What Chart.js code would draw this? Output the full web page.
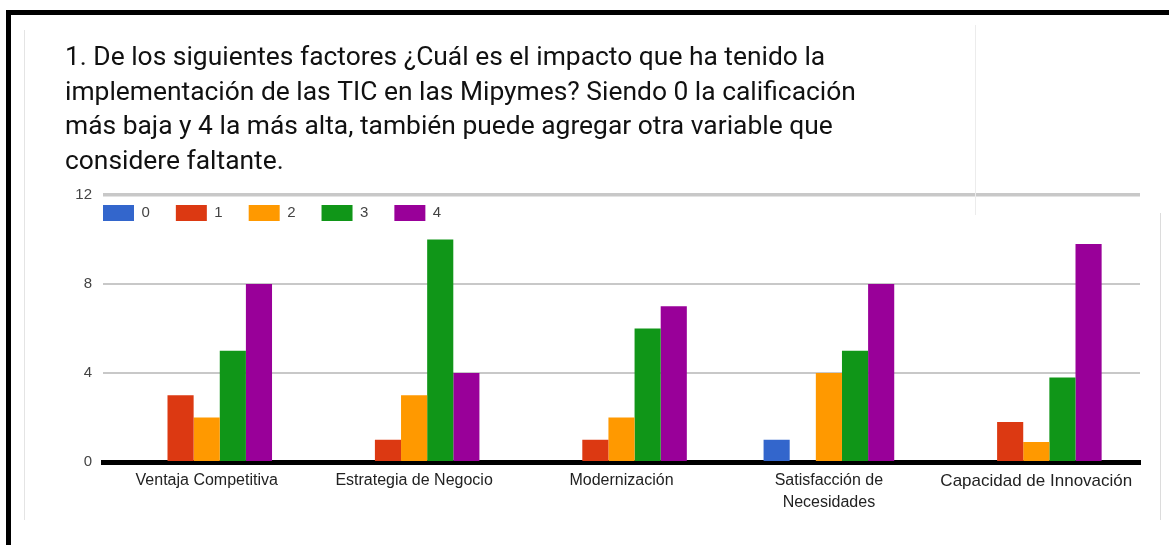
<!DOCTYPE html>
<html>
<head>
<meta charset="utf-8">
<script src="https://cdn.jsdelivr.net/npm/chart.js@4/dist/chart.umd.min.js"></script>
<style>
  html, body { margin: 0; padding: 0; background: #fff; }
  #wrap { position: relative; width: 1169px; height: 545px; overflow: hidden; }
  #box { position: absolute; left: 0; top: 0; width: 1169px; height: 545px; }
  .deco { position: absolute; pointer-events: none; }
</style>
</head>
<body>
<div id="wrap">
  <div id="box"><canvas id="c"></canvas></div>
  <div class="deco" style="left:6px;top:10px;width:1163px;height:5px;background:#000;"></div>
  <div class="deco" style="left:6px;top:10px;width:5px;height:535px;background:#000;"></div>
  <div class="deco" style="left:24px;top:30px;width:1px;height:490px;background:#e4e4e4;"></div>
  <div class="deco" style="left:975px;top:25px;width:1px;height:190px;background:#ececec;"></div>
  <div class="deco" style="left:1160px;top:213px;width:1px;height:307px;background:#dcdcdc;"></div>
</div>
<script>
const titleLines = [
  "1. De los siguientes factores ¿Cuál es el impacto que ha tenido la",
  "implementación de las TIC en las Mipymes? Siendo 0 la calificación",
  "más baja y 4 la más alta, también puede agregar otra variable que",
  "considere faltante."
];
const categories = [
  "Ventaja Competitiva",
  "Estrategia de Negocio",
  "Modernización",
  ["Satisfacción de", "Necesidades"],
  "Capacidad de Innovación"
];
const seriesNames = ["0", "1", "2", "3", "4"];
const rating0 = [0, 0, 0, 1, 0];
const rating1 = [3, 1, 1, 0, 1.8];
const rating2 = [2, 3, 2, 4, 0.9];
const rating3 = [5, 10, 6, 5, 3.8];
const rating4 = [8, 4, 7, 8, 9.8];
const yTicks = [0, 4, 8, 12];

const seriesValues = [rating0, rating1, rating2, rating3, rating4];
const colors = ["#3366cc", "#dc3912", "#ff9900", "#109618", "#990099"];

const legendInside = {
  id: 'legendInside',
  beforeLayout(chart) {
    const lg = chart.legend;
    if (lg && !lg._patched) {
      const f = lg.fit;
      lg.fit = function () { f.call(this); this.height = 0; };
      lg._patched = true;
    }
  },
  afterLayout(chart) {
    const lg = chart.legend;
    const ca = chart.chartArea;
    const pad = lg.options.labels.padding;
    lg.left = ca.left - pad;
    lg.right = ca.right;
    lg.width = lg.right - lg.left;
    lg.top = ca.top + 10 - pad;
    lg.bottom = lg.top + 60;
    lg.height = 60;
  }
};

new Chart(document.getElementById('c'), {
  type: 'bar',
  data: {
    labels: categories,
    datasets: seriesNames.map((n, i) => ({
      label: n,
      data: seriesValues[i],
      backgroundColor: colors[i],
      borderWidth: 0,
      barPercentage: 1,
      categoryPercentage: 0.63
    }))
  },
  plugins: [legendInside],
  options: {
    responsive: true,
    maintainAspectRatio: false,
    animation: false,
    events: [],
    layout: { padding: { left: 65, top: 30, right: 29, bottom: 0 } },
    plugins: {
      title: {
        display: true,
        text: titleLines,
        align: 'start',
        color: '#111',
        font: { family: 'Roboto', size: 26.4, weight: 'normal', lineHeight: 34.5 / 26.4 },
        padding: { top: 11.5, bottom: 15.5 }
      },
      legend: {
        display: true,
        position: 'top',
        align: 'start',
        fullSize: false,
        labels: {
          boxWidth: 31,
          boxHeight: 16,
          padding: 26,
          color: '#444',
          font: { family: 'Liberation Sans', size: 15 }
        }
      },
      tooltip: { enabled: false }
    },
    scales: {
      x: {
        grid: { display: false, drawTicks: false },
        border: { display: true, color: '#000', width: 5 },
        ticks: {
          color: '#222',
          padding: 8,
          maxRotation: 0,
          autoSkip: false,
          font: (ctx) => ({ family: 'Liberation Sans', size: ctx.index === 4 ? 17 : 16, lineHeight: 1.375 })
        },
        afterFit(scale) { scale.height = 83; }
      },
      y: {
        min: 0,
        max: 12,
        afterBuildTicks(scale) { scale.ticks = yTicks.map(v => ({ value: v })); },
        grid: {
          drawTicks: false,
          color: '#c8c8c8',
          lineWidth: (ctx) => (ctx.tick && ctx.tick.value === 12 ? 3.5 : 2)
        },
        border: { display: false },
        ticks: {
          color: '#444',
          padding: 11,
          font: { family: 'Liberation Sans', size: 15 }
        },
        afterFit(scale) { scale.width = 38; }
      }
    }
  }
});
</script>
</body>
</html>
